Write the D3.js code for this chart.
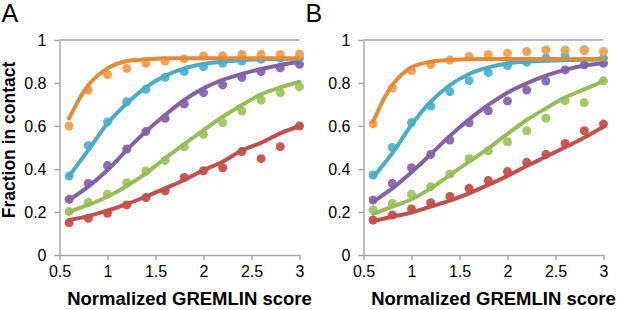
<!DOCTYPE html>
<html>
<head>
<meta charset="utf-8">
<script src="https://cdn.jsdelivr.net/npm/d3@7"></script>
<style>
  body { margin: 0; background: #fff; }
  svg { display: block; font-family: "Liberation Sans", Arial, sans-serif; }
  .axis path, .axis line { stroke: #a6a6a6; stroke-width: 1.5; }
  .axis text { font-size: 16px; fill: #000; }
</style>
</head>
<body>
<div id="wrapper"></div>
<script>
// x positions shared by every series
const scores = [0.6, 0.8, 1.0, 1.2, 1.4, 1.6, 1.8, 2.0, 2.2, 2.4, 2.6, 2.8, 3.0];
const xTicks = [0.5, 1, 1.5, 2, 2.5, 3];
const yTicks = [0, 0.2, 0.4, 0.6, 0.8, 1];

const lineColors = { orange: "#e38b3b", cyan: "#4aacc5", purple: "#7f63a3", green: "#9abb59", red: "#c0504d" };
const dotColors  = { orange: "#f5a251", cyan: "#55b8d0", purple: "#8a6db0", green: "#a6c763", red: "#cc5652" };

// Panel A - observed points
const aDotsOrange = [0.60, 0.767, 0.839, 0.868, 0.891, 0.902, 0.912, 0.926, 0.927, 0.933, 0.933, 0.933, 0.935];
const aDotsCyan   = [0.367, 0.509, 0.619, 0.713, 0.771, 0.826, 0.853, 0.876, 0.891, 0.902, 0.91, 0.915, 0.915];
const aDotsPurple = [0.259, 0.333, 0.416, 0.493, 0.574, 0.636, 0.702, 0.755, 0.791, 0.826, 0.853, 0.871, 0.887];
const aDotsGreen  = [0.202, 0.245, 0.282, 0.336, 0.391, 0.44, 0.504, 0.561, 0.616, 0.67, 0.721, 0.755, 0.783];
const aDotsRed    = [0.15, 0.171, 0.194, 0.233, 0.267, 0.298, 0.361, 0.392, 0.406, 0.481, 0.448, 0.504, 0.60];
// Panel A - fitted lines
const aLineOrange = [0.636, 0.79, 0.868, 0.902, 0.91, 0.915, 0.915, 0.915, 0.915, 0.915, 0.915, 0.915, 0.915];
const aLineCyan   = [0.367, 0.488, 0.612, 0.705, 0.78, 0.833, 0.868, 0.888, 0.899, 0.907, 0.91, 0.912, 0.913];
const aLinePurple = [0.256, 0.318, 0.395, 0.488, 0.574, 0.651, 0.721, 0.775, 0.814, 0.842, 0.865, 0.884, 0.899];
const aLineGreen  = [0.202, 0.233, 0.271, 0.321, 0.38, 0.45, 0.516, 0.581, 0.643, 0.698, 0.747, 0.78, 0.806];
const aLineRed    = [0.163, 0.181, 0.206, 0.237, 0.271, 0.31, 0.349, 0.395, 0.434, 0.486, 0.522, 0.566, 0.60];

// Panel B - observed points
const bDotsOrange = [0.61, 0.777, 0.858, 0.886, 0.907, 0.923, 0.932, 0.938, 0.946, 0.954, 0.954, 0.951, 0.946];
const bDotsCyan   = [0.372, 0.5, 0.616, 0.693, 0.76, 0.811, 0.848, 0.881, 0.896, 0.917, 0.927, 0.955, 0.915];
const bDotsPurple = [0.256, 0.333, 0.406, 0.468, 0.535, 0.615, 0.671, 0.716, 0.767, 0.809, 0.861, 0.884, 0.892];
const bDotsGreen  = [0.21, 0.24, 0.282, 0.318, 0.377, 0.448, 0.485, 0.527, 0.578, 0.636, 0.718, 0.709, 0.81];
const bDotsRed    = [0.163, 0.186, 0.214, 0.243, 0.272, 0.31, 0.346, 0.388, 0.431, 0.468, 0.519, 0.578, 0.609];
// Panel B - fitted lines
const bLineOrange = [0.62, 0.79, 0.873, 0.899, 0.907, 0.911, 0.912, 0.912, 0.912, 0.912, 0.912, 0.912, 0.912];
const bLineCyan   = [0.362, 0.473, 0.605, 0.713, 0.79, 0.842, 0.873, 0.891, 0.899, 0.903, 0.906, 0.908, 0.909];
const bLinePurple = [0.248, 0.31, 0.385, 0.468, 0.554, 0.631, 0.698, 0.755, 0.798, 0.834, 0.861, 0.881, 0.892];
const bLineGreen  = [0.191, 0.225, 0.259, 0.31, 0.372, 0.434, 0.496, 0.563, 0.628, 0.682, 0.733, 0.77, 0.81];
const bLineRed    = [0.158, 0.178, 0.197, 0.225, 0.253, 0.287, 0.326, 0.368, 0.414, 0.457, 0.501, 0.547, 0.597];

const panels = [
  { label: "A", left: 59.5,
    dots:  { orange: aDotsOrange, cyan: aDotsCyan, purple: aDotsPurple, green: aDotsGreen, red: aDotsRed },
    lines: { orange: aLineOrange, cyan: aLineCyan, purple: aLinePurple, green: aLineGreen, red: aLineRed } },
  { label: "B", left: 363.5,
    dots:  { orange: bDotsOrange, cyan: bDotsCyan, purple: bDotsPurple, green: bDotsGreen, red: bDotsRed },
    lines: { orange: bLineOrange, cyan: bLineCyan, purple: bLinePurple, green: bLineGreen, red: bLineRed } },
];

const width = 617, height = 310;
const plotWidth = 240, plotTop = 40, plotBottom = 255;

const svg = d3.select("#wrapper").append("svg")
  .attr("width", width)
  .attr("height", height);

// Draw order: red at back, orange on top
const drawOrder = ["red", "green", "purple", "cyan", "orange"];

panels.forEach(p => {
  const g = svg.append("g").attr("transform", `translate(${p.left},0)`);

  const xScale = d3.scaleLinear().domain([0.5, 3]).range([0, plotWidth]);
  const yScale = d3.scaleLinear().domain([0, 1]).range([plotBottom, plotTop]);

  // top line at y = 1
  g.append("line")
    .attr("x1", 0).attr("x2", plotWidth)
    .attr("y1", yScale(1)).attr("y2", yScale(1))
    .attr("stroke", "#a6a6a6").attr("stroke-width", 1.5);

  g.append("g")
    .attr("class", "axis")
    .call(d3.axisLeft(yScale).tickValues(yTicks).tickSize(5).tickSizeOuter(0)
      .tickPadding(8).tickFormat(d => d3.format("~g")(d)));

  g.append("g")
    .attr("class", "axis")
    .attr("transform", `translate(0,${plotBottom})`)
    .call(d3.axisBottom(xScale).tickValues(xTicks).tickSize(5).tickSizeOuter(0)
      .tickPadding(6).tickFormat(d => d3.format("~g")(d)));

  const line = d3.line()
    .x((d, i) => xScale(scores[i]))
    .y(d => yScale(d))
    .curve(d3.curveCatmullRom.alpha(0.5));

  // dots first, then lines over them
  drawOrder.forEach(name => {
    g.selectAll(`.dot-${name}`)
      .data(p.dots[name])
      .enter()
      .append("circle")
      .attr("class", `dot-${name}`)
      .attr("cx", (d, i) => xScale(scores[i]))
      .attr("cy", d => yScale(d))
      .attr("r", 4.5)
      .attr("fill", dotColors[name]);
  });

  drawOrder.forEach(name => {
    g.append("path")
      .attr("d", line(p.lines[name]))
      .attr("fill", "none")
      .attr("stroke", lineColors[name])
      .attr("stroke-width", 4)
      .attr("stroke-linejoin", "round")
      .attr("stroke-linecap", "round");
  });

  // panel letter
  svg.append("text")
    .attr("x", p.left - 58)
    .attr("y", 22)
    .style("font-size", "25px")
    .text(p.label);

  // x axis title
  svg.append("text")
    .attr("x", p.left + 130)
    .attr("y", 305)
    .attr("text-anchor", "middle")
    .style("font-size", "18.5px")
    .style("font-weight", "bold")
    .text("Normalized GREMLIN score");
});

// shared y axis title
svg.append("text")
  .attr("transform", `translate(15,140) rotate(-90)`)
  .attr("text-anchor", "middle")
  .style("font-size", "17.5px")
  .style("font-weight", "bold")
  .text("Fraction in contact");
</script>
</body>
</html>
